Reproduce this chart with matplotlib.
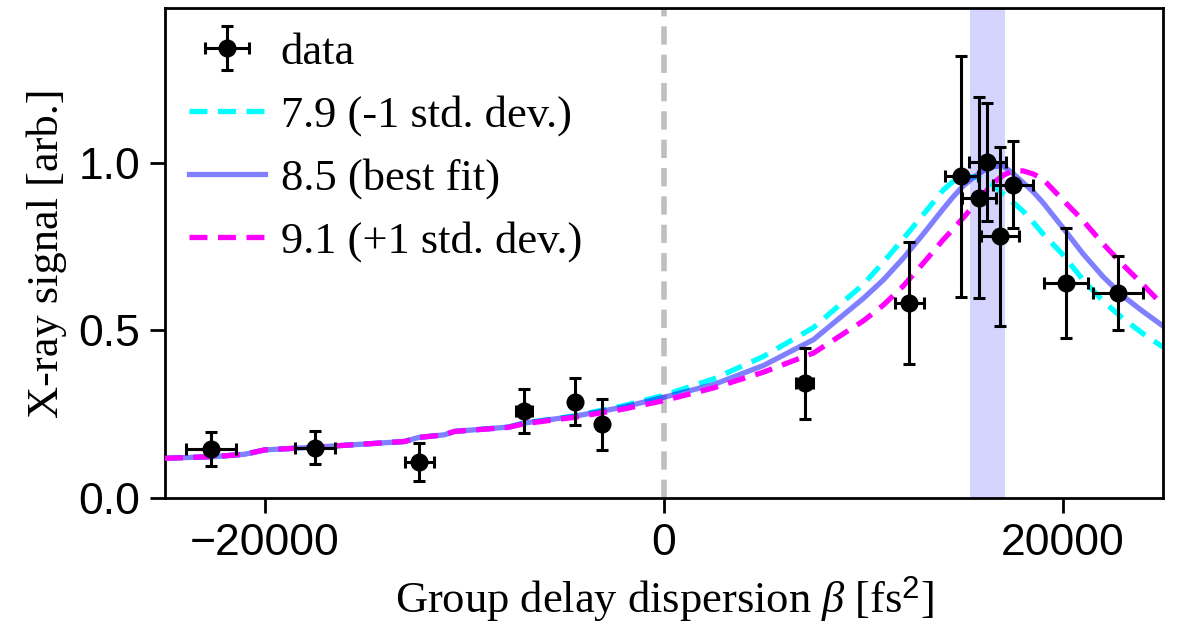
import matplotlib
matplotlib.use("Agg")
import matplotlib.pyplot as plt

plt.rcParams["font.family"] = ["Liberation Serif", "DejaVu Serif"]
plt.rcParams["mathtext.fontset"] = "custom"
plt.rcParams["mathtext.it"] = "Liberation Serif:italic"
plt.rcParams["mathtext.rm"] = "Liberation Sans"

# Measured points
beta = [-22700, -17500, -12250, -7000, -4450, -3100, 7050, 12300,
        14900, 15800, 16200, 16850, 17500, 20150, 22750]
signal = [0.145, 0.150, 0.107, 0.259, 0.286, 0.220, 0.342, 0.581,
          0.959, 0.895, 1.002, 0.780, 0.934, 0.641, 0.611]
signal_err = [0.050, 0.050, 0.056, 0.065, 0.070, 0.076, 0.106, 0.183,
              0.360, 0.300, 0.175, 0.267, 0.130, 0.165, 0.110]
beta_err = [1250, 1000, 740, 400, 120, 0, 440, 730,
            820, 850, 920, 960, 990, 1110, 1240]

# Model curves
beta_model = [-25000, -22500, -21000, -20000, -17500, -13000, -12300, -11000,
              -10500, -7800, -7000, -4500, -2000, 0, 2500, 5000, 7500, 10000,
              11000, 12000, 13000, 14000, 14500, 15000, 15500, 16000, 16500,
              17000, 17500, 18000, 18500, 19000, 20000, 21000, 22000, 23000,
              24000, 25000]
model_lo = [0.118, 0.123, 0.130, 0.143, 0.151, 0.168, 0.180, 0.188,
            0.198, 0.211, 0.223, 0.244, 0.275, 0.306, 0.355, 0.422, 0.508, 0.637,
            0.703, 0.773, 0.845, 0.918, 0.944, 0.958, 0.958, 0.950, 0.933,
            0.907, 0.881, 0.855, 0.822, 0.787, 0.725, 0.650, 0.587, 0.535,
            0.490, 0.450]
model_best = [0.118, 0.123, 0.130, 0.143, 0.151, 0.168, 0.180, 0.188,
              0.198, 0.211, 0.223, 0.243, 0.271, 0.300, 0.338, 0.395, 0.472, 0.595,
              0.650, 0.715, 0.787, 0.862, 0.898, 0.930, 0.955, 0.975, 0.988,
              0.990, 0.967, 0.940, 0.913, 0.880, 0.805, 0.728, 0.660, 0.602,
              0.556, 0.513]
model_hi = [0.118, 0.123, 0.130, 0.143, 0.151, 0.168, 0.180, 0.188,
            0.198, 0.210, 0.221, 0.240, 0.265, 0.290, 0.328, 0.375, 0.432, 0.528,
            0.575, 0.632, 0.700, 0.770, 0.802, 0.835, 0.870, 0.905, 0.938,
            0.962, 0.975, 0.975, 0.966, 0.950, 0.888, 0.827, 0.758, 0.695,
            0.636, 0.575]

band = (15340, 17090)

fig, ax = plt.subplots(figsize=(6, 3.175), dpi=200)
fig.subplots_adjust(left=0.1375, right=0.969, bottom=0.216, top=0.987)

ax.axvspan(band[0], band[1], color="blue", alpha=0.17, lw=0, zorder=0)
ax.axvline(0, color="0.75", ls="--", lw=2.0, dashes=(3.3, 1.8), zorder=1)

l_lo, = ax.plot(beta_model, model_lo, color="cyan", ls="--", lw=1.9,
                dashes=(3.4, 2.0), label="7.9 (-1 std. dev.)", zorder=2)
l_best, = ax.plot(beta_model, model_best, color="blue", alpha=0.5, lw=1.9,
                  label="8.5 (best fit)", zorder=2)
l_hi, = ax.plot(beta_model, model_hi, color="magenta", ls="--", lw=1.9,
                dashes=(3.4, 2.0), label="9.1 (+1 std. dev.)", zorder=3)
eb = ax.errorbar(beta, signal, yerr=signal_err, xerr=beta_err, fmt="o",
                 color="black", ms=5.5, elinewidth=1.1, capsize=2.2,
                 capthick=1.1, label="data", zorder=5)

ax.set_xlim(-25000, 25000)
ax.set_ylim(0, 1.46)
ax.set_xticks([-20000, 0, 20000])
ax.set_yticks([0.0, 0.5, 1.0])
ax.tick_params(length=5.4, width=1.0, labelsize=16)
for lab in ax.get_xticklabels() + ax.get_yticklabels():
    lab.set_family("Liberation Sans")
for s in ax.spines.values():
    s.set_linewidth(1.0)

ax.set_xlabel(r"Group delay dispersion $\beta$ [fs$^2$]", fontsize=16)
ax.set_ylabel("X-ray signal [arb.]", fontsize=16)

ax.legend(handles=[eb, l_lo, l_best, l_hi], loc="upper left", frameon=False,
          fontsize=16, handlelength=1.7, handletextpad=0.35,
          borderaxespad=0.15, labelspacing=0.5)

fig.savefig("out.png", dpi=200)
